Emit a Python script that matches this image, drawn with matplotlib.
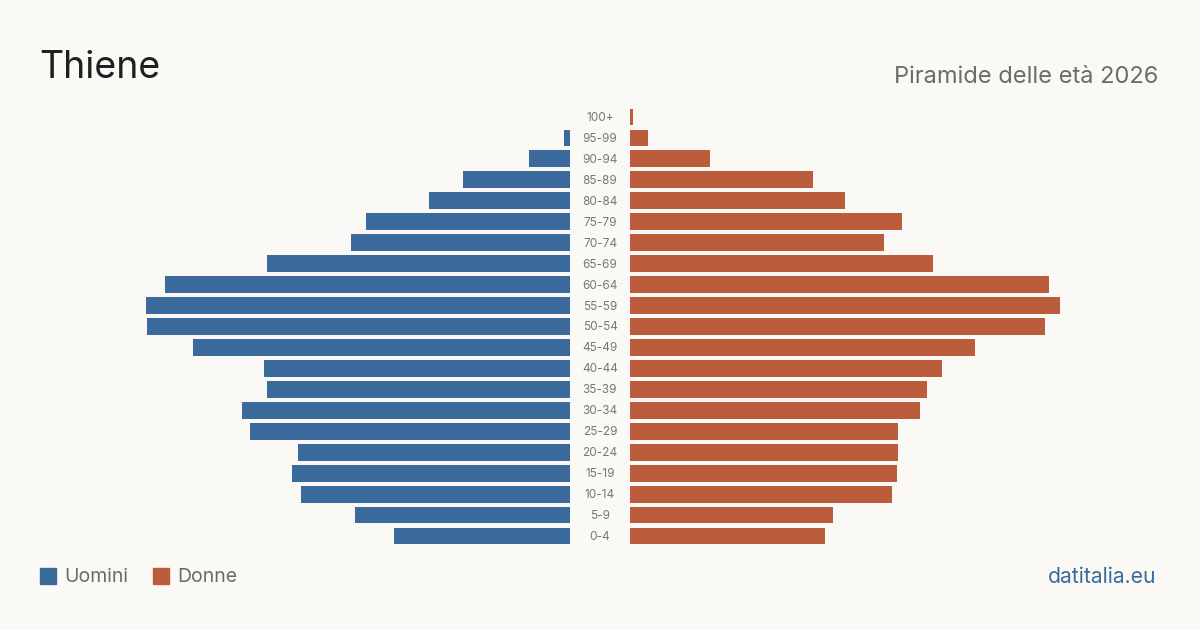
import matplotlib.pyplot as plt

plt.rcParams['font.family'] = ['Inter', 'DejaVu Sans']

# fasce d'età dal basso verso l'alto
eta = ['0-4', '5-9', '10-14', '15-19', '20-24', '25-29', '30-34', '35-39',
       '40-44', '45-49', '50-54', '55-59', '60-64', '65-69', '70-74',
       '75-79', '80-84', '85-89', '90-94', '95-99', '100+']
uomini = [414, 505, 632, 653, 639, 752, 771, 712, 719, 886, 994,
          996, 952, 712, 515, 479, 331, 251, 96, 14, 0]
donne = [458, 477, 616, 627, 630, 630, 682, 698, 733, 811, 975,
         1010, 985, 712, 597, 639, 505, 430, 188, 42, 7]

blu = '#3b6b9d'
rosso = '#bb5d3c'
sfondo = '#faf9f5'
W, H = 1200, 630

fig = plt.figure(figsize=(12, 6.3), dpi=100, facecolor=sfondo)

# assi: sinistra (uomini) e destra (donne), separati dalle etichette
bottom = 1 - 546.5 / H
height = (546.5 - 106.5) / H
xmax = 1104.5  # 470 px
ax_l = fig.add_axes([100 / W, bottom, 470 / W, height])
ax_r = fig.add_axes([630 / W, bottom, 470 / W, height])

y = range(len(eta))
ax_l.barh(y, uomini, height=0.8, color=blu)
ax_r.barh(y, donne, height=0.8, color=rosso)
ax_l.set_xlim(xmax, 0)
ax_r.set_xlim(0, xmax)
for ax in (ax_l, ax_r):
    ax.set_ylim(-0.5, len(eta) - 0.5)
    ax.axis('off')

for i, lab in enumerate(eta):
    yy = 1 - (537 - i * (537 - 118) / 20) / H
    fig.text(600 / W, yy, lab, ha='center', va='center', fontsize=8.5, color='#777777')

fig.text(39 / W, 1 - 68 / H, 'Thiene', fontsize=27, color='#1f1f1f', va='center', ha='left')
fig.text(1158 / W, 1 - 77 / H, 'Piramide delle età 2026', fontsize=17, color='#6b6b6b',
         va='center', ha='right')

# legenda
for x0, col, txt in [(40, blu, 'Uomini'), (153, rosso, 'Donne')]:
    fig.patches.append(plt.Rectangle((x0 / W, 1 - 584 / H), 16 / W, 16 / H,
                                     transform=fig.transFigure, color=col))
    fig.text((x0 + 24) / W, 1 - 577 / H, txt, fontsize=14, color='#6b6b6b', va='center', ha='left')

fig.text(1156 / W, 1 - 577 / H, 'datitalia.eu', fontsize=15.2, color=blu, va='center', ha='right')

fig.savefig('out.png', dpi=100, facecolor=sfondo)
